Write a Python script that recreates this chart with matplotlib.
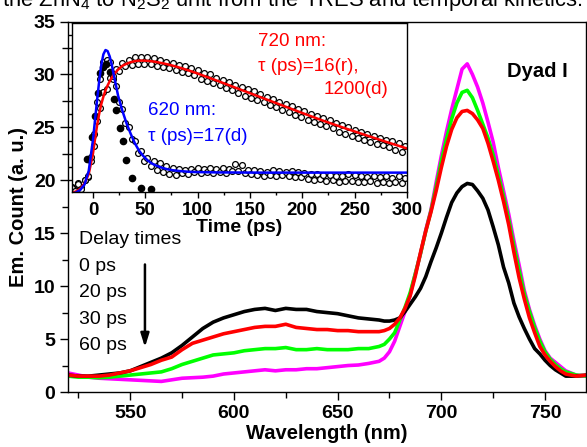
import numpy as np
import matplotlib
matplotlib.use("Agg")
import matplotlib.pyplot as plt
from matplotlib.ticker import MultipleLocator

plt.rcParams['font.family'] = ['Liberation Sans', 'DejaVu Sans']
plt.rcParams['mathtext.default'] = 'regular'

# ---------------- Emission spectra at different delay times ----------------
wavelength = [520, 525, 530, 535, 540, 545, 550, 555, 560, 565, 570, 575, 580, 585,
              590, 595, 600, 605, 610, 615, 620, 625, 630, 635, 640, 645, 650, 655,
              660, 665, 670, 672.5, 675, 677.5, 680, 682.5, 685, 687.5, 690, 692.5,
              695, 697.5, 700, 702.5, 705, 707.5, 710, 712.5, 715, 717.5, 720, 722.5,
              725, 727.5, 730, 732.5, 735, 737.5, 740, 742.5, 745, 747.5, 750, 752.5,
              755, 757.5, 760, 765, 770]

em_0ps = [1.6, 1.5, 1.5, 1.6, 1.7, 1.8, 2.0, 2.4, 2.8, 3.2, 3.7, 4.4, 5.2, 6.0,
          6.6, 7.0, 7.3, 7.6, 7.8, 7.9, 7.7, 7.9, 7.8, 7.8, 7.6, 7.5, 7.4, 7.2,
          7.0, 6.9, 6.8, 6.7, 6.7, 6.8, 7.0, 7.6, 8.3, 9.0, 9.8, 10.9,
          12.3, 13.6, 15.0, 16.5, 17.9, 18.8, 19.4, 19.7, 19.6, 19.0, 18.3, 17.2,
          15.6, 13.9, 11.8, 10.3, 8.4, 7.1, 6.0, 5.0, 4.1, 3.6, 3.0, 2.5,
          2.1, 1.8, 1.5, 1.5, 1.6]

em_20ps = [1.6, 1.5, 1.5, 1.5, 1.6, 1.8, 2.0, 2.3, 2.6, 3.0, 3.3, 4.0, 4.6, 4.9,
           5.2, 5.5, 5.7, 5.9, 6.1, 6.2, 6.2, 6.4, 6.1, 6.0, 5.9, 5.9, 5.8, 5.8,
           5.7, 5.7, 5.7, 5.8, 6.0, 6.4, 7.0, 7.9, 9.1, 11.0, 13.2, 15.2,
           17.0, 19.0, 21.2, 23.2, 24.8, 25.9, 26.5, 26.6, 26.3, 25.7, 24.9, 23.5,
           21.8, 20.0, 18.0, 15.8, 13.2, 10.8, 8.8, 7.0, 5.6, 4.3, 3.5, 2.9,
           2.4, 2.0, 1.7, 1.5, 1.6]

em_30ps = [1.5, 1.4, 1.4, 1.35, 1.4, 1.5, 1.6, 1.7, 1.8, 1.9, 2.2, 2.6, 2.9, 3.2,
           3.5, 3.6, 3.7, 3.9, 4.0, 4.1, 4.1, 4.2, 4.0, 4.0, 4.1, 4.0, 4.0, 4.0,
           4.1, 4.1, 4.3, 4.5, 5.0, 5.6, 6.8, 8.0, 9.4, 11.2, 13.1, 15.2,
           17.1, 19.4, 21.8, 23.9, 25.8, 27.3, 28.3, 28.5, 27.8, 26.6, 25.3, 24.0,
           22.4, 20.5, 18.5, 16.3, 13.8, 11.5, 9.3, 7.6, 6.1, 4.8, 3.8, 3.1,
           2.6, 2.2, 1.9, 1.6, 1.5]

em_60ps = [1.8, 1.6, 1.4, 1.3, 1.25, 1.2, 1.15, 1.1, 1.05, 1.0, 1.15, 1.3, 1.35, 1.4,
           1.5, 1.7, 1.8, 1.9, 2.0, 2.1, 2.0, 2.1, 2.1, 2.2, 2.2, 2.3, 2.4, 2.5,
           2.55, 2.7, 2.9, 3.2, 3.8, 4.8, 6.2, 7.6, 9.2, 11.2, 13.1, 15.3,
           17.2, 19.8, 22.3, 24.6, 26.7, 28.6, 30.5, 31.0, 30.0, 28.8, 27.3, 25.5,
           23.6, 21.2, 19.0, 16.8, 14.3, 12.0, 9.6, 7.8, 6.3, 5.0, 3.9, 3.2,
           2.8, 2.4, 2.0, 1.6, 1.5]

delay_labels = ["0 ps", "20 ps", "30 ps", "60 ps"]

# ---------------- Kinetic traces (inset) ----------------
t_data = list(range(-20, 300, 3))

trace_620 = [19.3, 19.0, 19.6, 19.2, 20.0, 20.4, 22.2, 24.4, 27.4, 29.6, 31.2, 31.4,
             31.2, 29.8, 28.9, 27.4, 26.7, 25.4, 25.0, 23.9, 23.7, 22.6, 22.8, 21.8,
             22.1, 21.3, 21.8, 21.0, 21.6, 20.8, 21.3, 20.6, 21.2, 20.5, 21.1, 20.7,
             21.0, 20.6, 21.1, 20.8, 21.2, 20.7, 21.1, 20.8, 21.2, 20.7, 21.1, 20.8,
             21.2, 20.7, 21.1, 20.9, 21.5, 20.9, 21.4, 20.7, 21.0, 20.6, 21.0, 20.5,
             20.9, 20.4, 20.8, 20.5, 21.0, 20.4, 20.9, 20.5, 20.8, 20.4, 20.9, 20.3,
             20.8, 20.3, 20.7, 20.1, 20.6, 20.0, 20.6, 20.1, 20.5, 19.9, 20.5, 20.0,
             20.4, 19.8, 20.4, 19.9, 20.6, 19.9, 20.5, 19.8, 20.4, 19.8, 20.3, 19.9,
             20.4, 19.7, 20.3, 19.8, 20.4, 19.7, 20.2, 19.8, 20.4, 19.7, 20.2]

trace_720 = [19.4, 19.1, 19.7, 19.4, 20.0, 20.3, 21.8, 23.2, 25.6, 26.8, 28.3, 28.6,
             29.7, 29.6, 30.5, 30.3, 31.1, 30.8, 31.4, 30.9, 31.6, 31.0, 31.6, 31.0,
             31.6, 31.0, 31.5, 30.8, 31.4, 30.7, 31.2, 30.6, 31.1, 30.4, 30.9, 30.2,
             30.8, 30.1, 30.6, 29.9, 30.4, 29.6, 30.1, 29.4, 30.0, 29.2, 29.7, 29.0,
             29.5, 28.7, 29.3, 28.5, 29.0, 28.2, 28.8, 28.0, 28.6, 27.8, 28.4, 27.6,
             28.1, 27.4, 27.9, 27.1, 27.7, 26.9, 27.4, 26.6, 27.2, 26.4, 27.0, 26.2,
             26.7, 26.0, 26.5, 25.7, 26.3, 25.5, 26.1, 25.3, 25.9, 25.1, 25.7, 24.9,
             25.4, 24.6, 25.2, 24.4, 25.0, 24.2, 24.7, 24.0, 24.6, 23.8, 24.4, 23.6,
             24.2, 23.4, 24.0, 23.3, 23.8, 23.1, 23.7, 22.9, 23.5, 22.7, 23.2]

t_irf = [-5.5, -0.6, 1.6, 4.8, 7.1, 9.6, 12.8, 16.0, 20.1, 22.4, 25.5, 28.7, 31.3,
         37.7, 45.6, 55.2]
irf = [22.0, 24.1, 26.1, 28.2, 30.1, 30.7, 31.0, 30.2, 27.7, 26.6, 24.9, 23.7, 21.9,
       20.2, 19.3, 19.2]

t_fit = [-20, -16, -12, -8, -4, 0, 2, 4, 6, 8, 10, 12, 14, 16, 18, 20, 24, 28, 32,
         36, 40, 44, 48, 52, 56, 60, 64, 68, 72, 76, 80, 84, 88, 92, 96, 100, 120,
         140, 160, 180, 200, 220, 240, 260, 280, 300]

fit_620 = [18.7, 18.85, 19.1, 19.6, 20.9, 23.8, 25.7, 27.6, 29.4, 30.9, 31.9, 32.3,
           32.2, 31.7, 30.9, 29.9, 28.0, 26.6, 25.4, 24.4, 23.5, 22.8, 22.3, 21.9,
           21.6, 21.4, 21.25, 21.12, 21.02, 20.95, 20.9, 20.86, 20.83, 20.8, 20.78,
           20.77, 20.74, 20.73, 20.72, 20.72, 20.72, 20.72, 20.72, 20.72, 20.72, 20.72]

fit_720 = [18.8, 18.95, 19.2, 19.7, 20.6, 22.5, 23.9, 25.2, 26.3, 27.2, 27.9, 28.5,
           28.95, 29.35, 29.7, 30.0, 30.45, 30.8, 31.0, 31.15, 31.25, 31.3, 31.3,
           31.28, 31.24, 31.18, 31.1, 31.02, 30.93, 30.83, 30.72, 30.6, 30.48, 30.35,
           30.22, 30.08, 29.35, 28.6, 27.85, 27.1, 26.35, 25.62, 24.94, 24.28, 23.63,
           23.0]

# ---------------- Figure ----------------
fig = plt.figure(figsize=(5.87, 4.47), dpi=100)

fig.text(0.004, 0.9866, "the ZnN$_4$ to N$_2$S$_2$ unit from the TRES and temporal kinetics.",
         fontsize=15.8, ha='left', va='baseline')

ax = fig.add_axes([0.11584, 0.12304, 0.88330, 0.82886])
for vals, col in [(em_60ps, '#ff00ff'), (em_30ps, '#00ff00'),
                  (em_0ps, '#000000'), (em_20ps, '#ff0000')]:
    ax.plot(wavelength, vals, color=col, lw=2.6, solid_joinstyle='round')

ax.set_xlim(520, 770)
ax.set_ylim(0, 35)
ax.xaxis.set_major_locator(MultipleLocator(50))
ax.xaxis.set_minor_locator(MultipleLocator(25))
ax.yaxis.set_major_locator(MultipleLocator(5))
ax.yaxis.set_minor_locator(MultipleLocator(2.5))
ax.tick_params(which='major', direction='out', length=6, width=1.0, labelsize=14, pad=3)
ax.tick_params(which='minor', direction='out', length=4, width=1.0)
for lab in ax.get_xticklabels() + ax.get_yticklabels():
    lab.set_fontweight('bold')
for sp in ax.spines.values():
    sp.set_linewidth(1.0)
ax.set_xlabel('Wavelength (nm)', fontsize=14.5, fontweight='bold', labelpad=2)
ax.set_ylabel('Em. Count (a. u.)', fontsize=14.5, fontweight='bold', labelpad=4)

ax.text(746.1, 30.26, 'Dyad I', fontsize=14.5, fontweight='bold', ha='center', va='center')

ax.text(525.3, 14.36, 'Delay times', fontsize=14, ha='left', va='center')
for lab, yv in zip(delay_labels, [11.84, 9.38, 6.87, 4.44]):
    ax.text(525.3, yv, lab, fontsize=14, ha='left', va='center')
ax.annotate('', xy=(557.1, 3.97), xytext=(557.1, 12.31),
            arrowprops=dict(arrowstyle='-|>,head_length=0.8,head_width=0.25',
                            color='black', lw=1.8))

# ---------------- Inset ----------------
ins = fig.add_axes([0.12266, 0.57047, 0.57070, 0.37919])
ins.set_facecolor('white')
ins.plot(t_data, trace_720, ls='none', marker='o', ms=4.2, mfc='white',
         mec='black', mew=0.9)
ins.plot(t_data, trace_620, ls='none', marker='o', ms=4.2, mfc='white',
         mec='black', mew=0.9)
ins.plot(t_irf, irf, ls='none', marker='o', ms=4.5, color='black')
ins.plot(t_fit, fit_720, color='#ff0000', lw=1.8)
ins.plot(t_fit, fit_620, color='#0000ff', lw=1.8)

ins.set_xlim(-20, 300)
ins.set_ylim(18.89, 34.9)
ins.xaxis.set_major_locator(MultipleLocator(50))
ins.xaxis.set_minor_locator(MultipleLocator(25))
ins.yaxis.set_major_locator(MultipleLocator(5))
ins.yaxis.set_minor_locator(MultipleLocator(1.25))
ins.tick_params(which='major', direction='out', length=4, width=1.0, labelsize=13.5, pad=3)
ins.tick_params(which='minor', direction='out', length=2.5, width=1.0)
ins.tick_params(axis='y', which='both', length=3, labelleft=False)
for lab in ins.get_xticklabels():
    lab.set_fontweight('bold')
for sp in ins.spines.values():
    sp.set_linewidth(1.0)
ins.set_xlabel('Time (ps)', fontsize=14, fontweight='bold', labelpad=0)

ins.text(157.4, 33.09, '720 nm:', color='#ff0000', fontsize=13.5, ha='left', va='center')
ins.text(157.4, 30.73, 'τ (ps)=16(r),', color='#ff0000', fontsize=13.5, ha='left', va='center')
ins.text(282.1, 28.53, '1200(d)', color='#ff0000', fontsize=13.5, ha='right', va='center')
ins.text(52.9, 26.57, '620 nm:', color='#0000ff', fontsize=13.5, ha='left', va='center')
ins.text(52.9, 24.12, 'τ (ps)=17(d)', color='#0000ff', fontsize=13.5, ha='left', va='center')

fig.savefig('out.png', dpi=100)
